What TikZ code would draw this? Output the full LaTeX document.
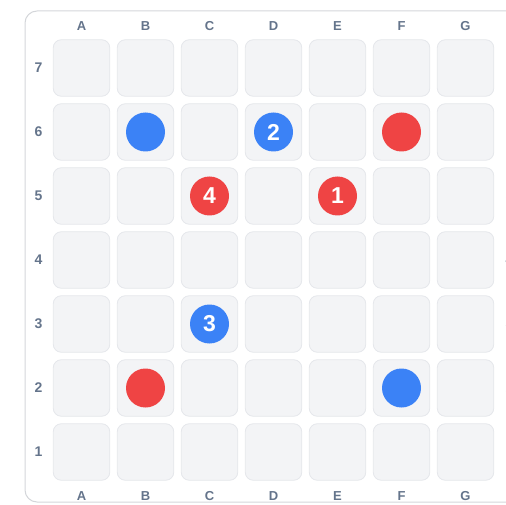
\documentclass[tikz,border=0pt]{standalone}
\usepackage{fontspec}
\setmainfont{Liberation Sans}
\definecolor{frameline}{HTML}{D4D6DA}
\definecolor{cellfill}{HTML}{F3F4F6}
\definecolor{cellline}{HTML}{E5E7EB}
\definecolor{labelc}{HTML}{64748B}
\definecolor{pblue}{HTML}{3B82F6}
\definecolor{pred}{HTML}{EF4444}
\begin{document}
\begin{tikzpicture}[x=1pt,y=-1pt,
  cellbox/.style={draw=cellline,fill=cellfill,line width=0.8pt,rounded corners=8pt,minimum width=56.5pt,minimum height=56.5pt,inner sep=0pt},
  collab/.style={text=labelc,font=\fontsize{13}{13}\selectfont\bfseries,inner sep=0pt},
  rowlab/.style={text=labelc,font=\fontsize{14}{14}\selectfont\bfseries,inner sep=0pt},
  piece/.style={circle,minimum size=39pt,inner sep=0pt,text=white,font=\fontsize{23}{23}\selectfont\bfseries},
  redp/.style={piece,fill=pred},
  bluep/.style={piece,fill=pblue}]
\useasboundingbox (0,0) rectangle (506,505);
\draw[frameline,line width=1pt,rounded corners=12pt] (25,11) rectangle (580,502);
\foreach \c [count=\i from 0] in {A,B,C,D,E,F,G}{
  \node[collab] (top\c) at ({81.5+64*\i},26.5) {\c};
  \node[collab] (bot\c) at ({81.5+64*\i},496.5) {\c};
}
\foreach \r [count=\j from 0] in {7,6,5,4,3,2,1}{
  \node[rowlab] (left\r) at (38.5,{67.5+64*\j}) {\r};
  \node[rowlab] (right\r) at (509.5,{67.5+64*\j}) {\r};
  \foreach \c [count=\i from 0] in {A,B,C,D,E,F,G}{
    \node[cellbox] (\c\r) at ({81.5+64*\i},{68+64*\j}) {};
  }
}
\node[bluep] (pB6) at (B6) {};
\node[bluep] (pD6) at (D6) {2};
\node[redp] (pF6) at (F6) {};
\node[redp] (pC5) at (C5) {4};
\node[redp] (pE5) at (E5) {1};
\node[bluep] (pC3) at (C3) {3};
\node[redp] (pB2) at (B2) {};
\node[bluep] (pF2) at (F2) {};
\end{tikzpicture}
\end{document}
